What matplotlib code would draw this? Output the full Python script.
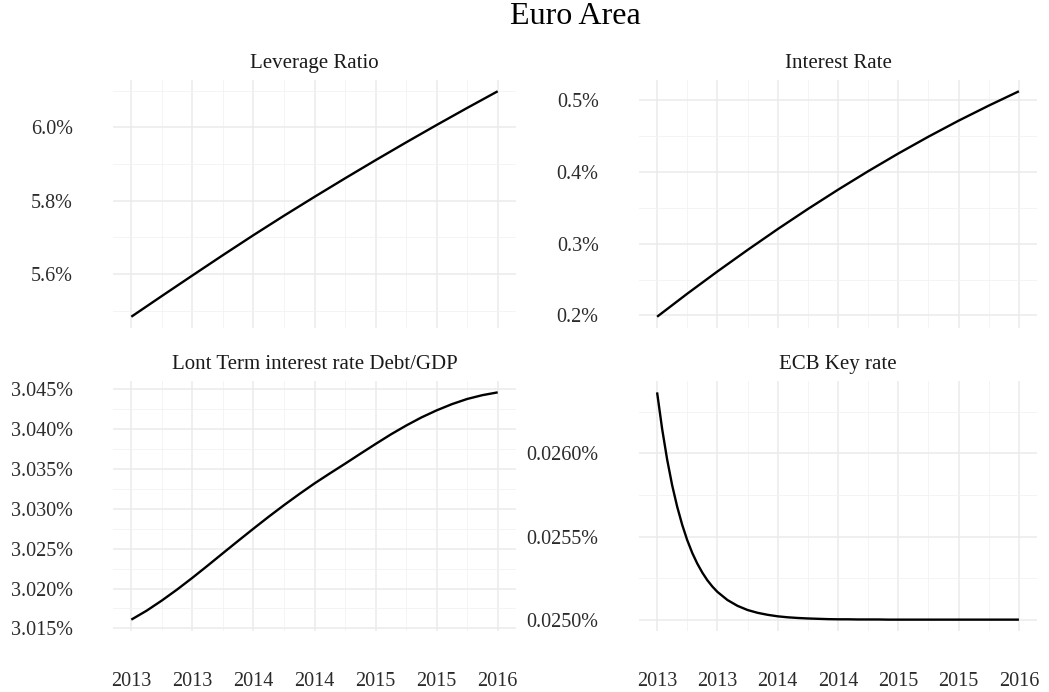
import matplotlib
matplotlib.use("Agg")
import matplotlib.pyplot as plt
from matplotlib.ticker import FixedLocator, FixedFormatter

plt.rcParams['font.family'] = ['Liberation Serif', 'DejaVu Serif']

# ---------------- data ----------------
quarter_years = [2013.0, 2013.25, 2013.5, 2013.75, 2014.0, 2014.25, 2014.5,
                 2014.75, 2015.0, 2015.25, 2015.5, 2015.75, 2016.0]
eighth_years = [2013 + k / 8 for k in range(25)]
ecb_months = [0, 0.5, 1, 1.5, 2, 2.5, 3, 3.5, 4, 4.5, 5, 5.5, 6,
              7, 8, 9, 10, 11, 12, 13, 14, 15, 16, 17, 18, 19, 20, 21,
              22, 23, 24, 26, 28, 30, 32, 34, 36]
ecb_years = [2013 + m / 12 for m in ecb_months]

leverage_ratio = [5.4835, 5.540, 5.596, 5.6515, 5.706, 5.759, 5.8105,
                  5.861, 5.9105, 5.959, 6.0065, 6.053, 6.0985]
interest_rate = [0.1981, 0.2302, 0.2612, 0.2912, 0.3203, 0.3483, 0.3752,
                 0.4010, 0.4257, 0.4492, 0.4715, 0.4925, 0.5125]
long_term_rate = [3.01610, 3.01722, 3.01850, 3.01988, 3.02135, 3.02288,
                  3.02444, 3.02599, 3.02752, 3.02902, 3.03047, 3.03186,
                  3.03320, 3.03445, 3.03567, 3.03692, 3.03815, 3.03935,
                  3.04046, 3.04148, 3.04237, 3.04315, 3.04380, 3.04428,
                  3.04463]
ecb_key_rate = [0.026367, 0.026148, 0.025963, 0.025808, 0.025679, 0.025570,
                0.025478, 0.025401, 0.025337, 0.025283, 0.025237, 0.025199,
                0.025167, 0.025118, 0.025083, 0.025058, 0.025041, 0.025029,
                0.025020, 0.025014, 0.025010, 0.025007, 0.025005, 0.025003,
                0.025002, 0.025002, 0.025001, 0.025001, 0.025001, 0.025000,
                0.025000, 0.025000, 0.025000, 0.025000, 0.025000, 0.025000,
                0.025000]

x_major = [2013.0, 2013.5, 2014.0, 2014.5, 2015.0, 2015.5, 2016.0]
x_minor = [2013.25, 2013.75, 2014.25, 2014.75, 2015.25, 2015.75]
x_labels = ['2013', '2013', '2014', '2014', '2015', '2015', '2016']

panel_titles = ['Leverage Ratio', 'Interest Rate',
                'Lont Term interest rate Debt/GDP', 'ECB Key rate']

lev_major = [5.6, 5.8, 6.0]
lev_minor = [5.5, 5.7, 5.9, 6.1]
lev_labels = ['5.6%', '5.8%', '6.0%']

ir_major = [0.2, 0.3, 0.4, 0.5]
ir_minor = [0.25, 0.35, 0.45]
ir_labels = ['0.2%', '0.3%', '0.4%', '0.5%']

lt_major = [3.015, 3.020, 3.025, 3.030, 3.035, 3.040, 3.045]
lt_minor = [3.0175, 3.0225, 3.0275, 3.0325, 3.0375, 3.0425]
lt_labels = ['3.015%', '3.020%', '3.025%', '3.030%', '3.035%', '3.040%', '3.045%']

ecb_major = [0.0250, 0.0255, 0.0260]
ecb_minor = [0.02525, 0.02575, 0.02625]
ecb_labels = ['0.0250%', '0.0255%', '0.0260%']

# ---------------- figure ----------------
W, H = 1049, 692
fig = plt.figure(figsize=(W / 100, H / 100), dpi=100)
fig.patch.set_facecolor('white')

def px_axes(left, top, right, bottom):
    return fig.add_axes([left / W, 1 - bottom / H, (right - left) / W, (bottom - top) / H])

panels = [
    (px_axes(113, 80, 516, 328), quarter_years, leverage_ratio, lev_major, lev_minor, lev_labels, False),
    (px_axes(639, 80, 1037, 328), quarter_years, interest_rate, ir_major, ir_minor, ir_labels, False),
    (px_axes(113, 381, 516, 631), eighth_years, long_term_rate, lt_major, lt_minor, lt_labels, True),
    (px_axes(639, 381, 1037, 631), ecb_years, ecb_key_rate, ecb_major, ecb_minor, ecb_labels, True),
]

tick_color = '#2b2b2b'
for (ax, xs, ys, ymaj, ymin, ylab, show_x), title in zip(panels, panel_titles):
    ax.plot(xs, ys, color='black', linewidth=1.7, solid_capstyle='butt',
            solid_joinstyle='round', zorder=3)
    ax.margins(x=0.05, y=0.05)
    ax.set_facecolor('white')
    for s in ax.spines.values():
        s.set_visible(False)
    ax.xaxis.set_major_locator(FixedLocator(x_major))
    ax.xaxis.set_minor_locator(FixedLocator(x_minor))
    ax.yaxis.set_major_locator(FixedLocator(ymaj))
    ax.yaxis.set_minor_locator(FixedLocator(ymin))
    ax.yaxis.set_major_formatter(FixedFormatter(ylab))
    if show_x:
        ax.xaxis.set_major_formatter(FixedFormatter(x_labels))
    else:
        ax.xaxis.set_major_formatter(FixedFormatter([''] * len(x_major)))
    ax.tick_params(which='both', length=0)
    ax.tick_params(axis='x', which='major', pad=29.5, labelsize=14.5, labelcolor=tick_color)
    ax.tick_params(axis='y', which='major', pad=29, labelsize=14.5, labelcolor=tick_color)
    ax.grid(which='major', color='#EBEBEB', linewidth=1.1, zorder=0)
    ax.grid(which='minor', color='#F2F2F2', linewidth=0.6, zorder=0)
    ax.set_axisbelow(True)
    ax.set_title(title, fontsize=15, color='#1a1a1a', pad=8.5)

fig.text(575 / W, 1 - 17 / H, 'Euro Area', ha='center', va='center',
         fontsize=23, color='black')

fig.savefig('out.png', dpi=100, facecolor='white')
